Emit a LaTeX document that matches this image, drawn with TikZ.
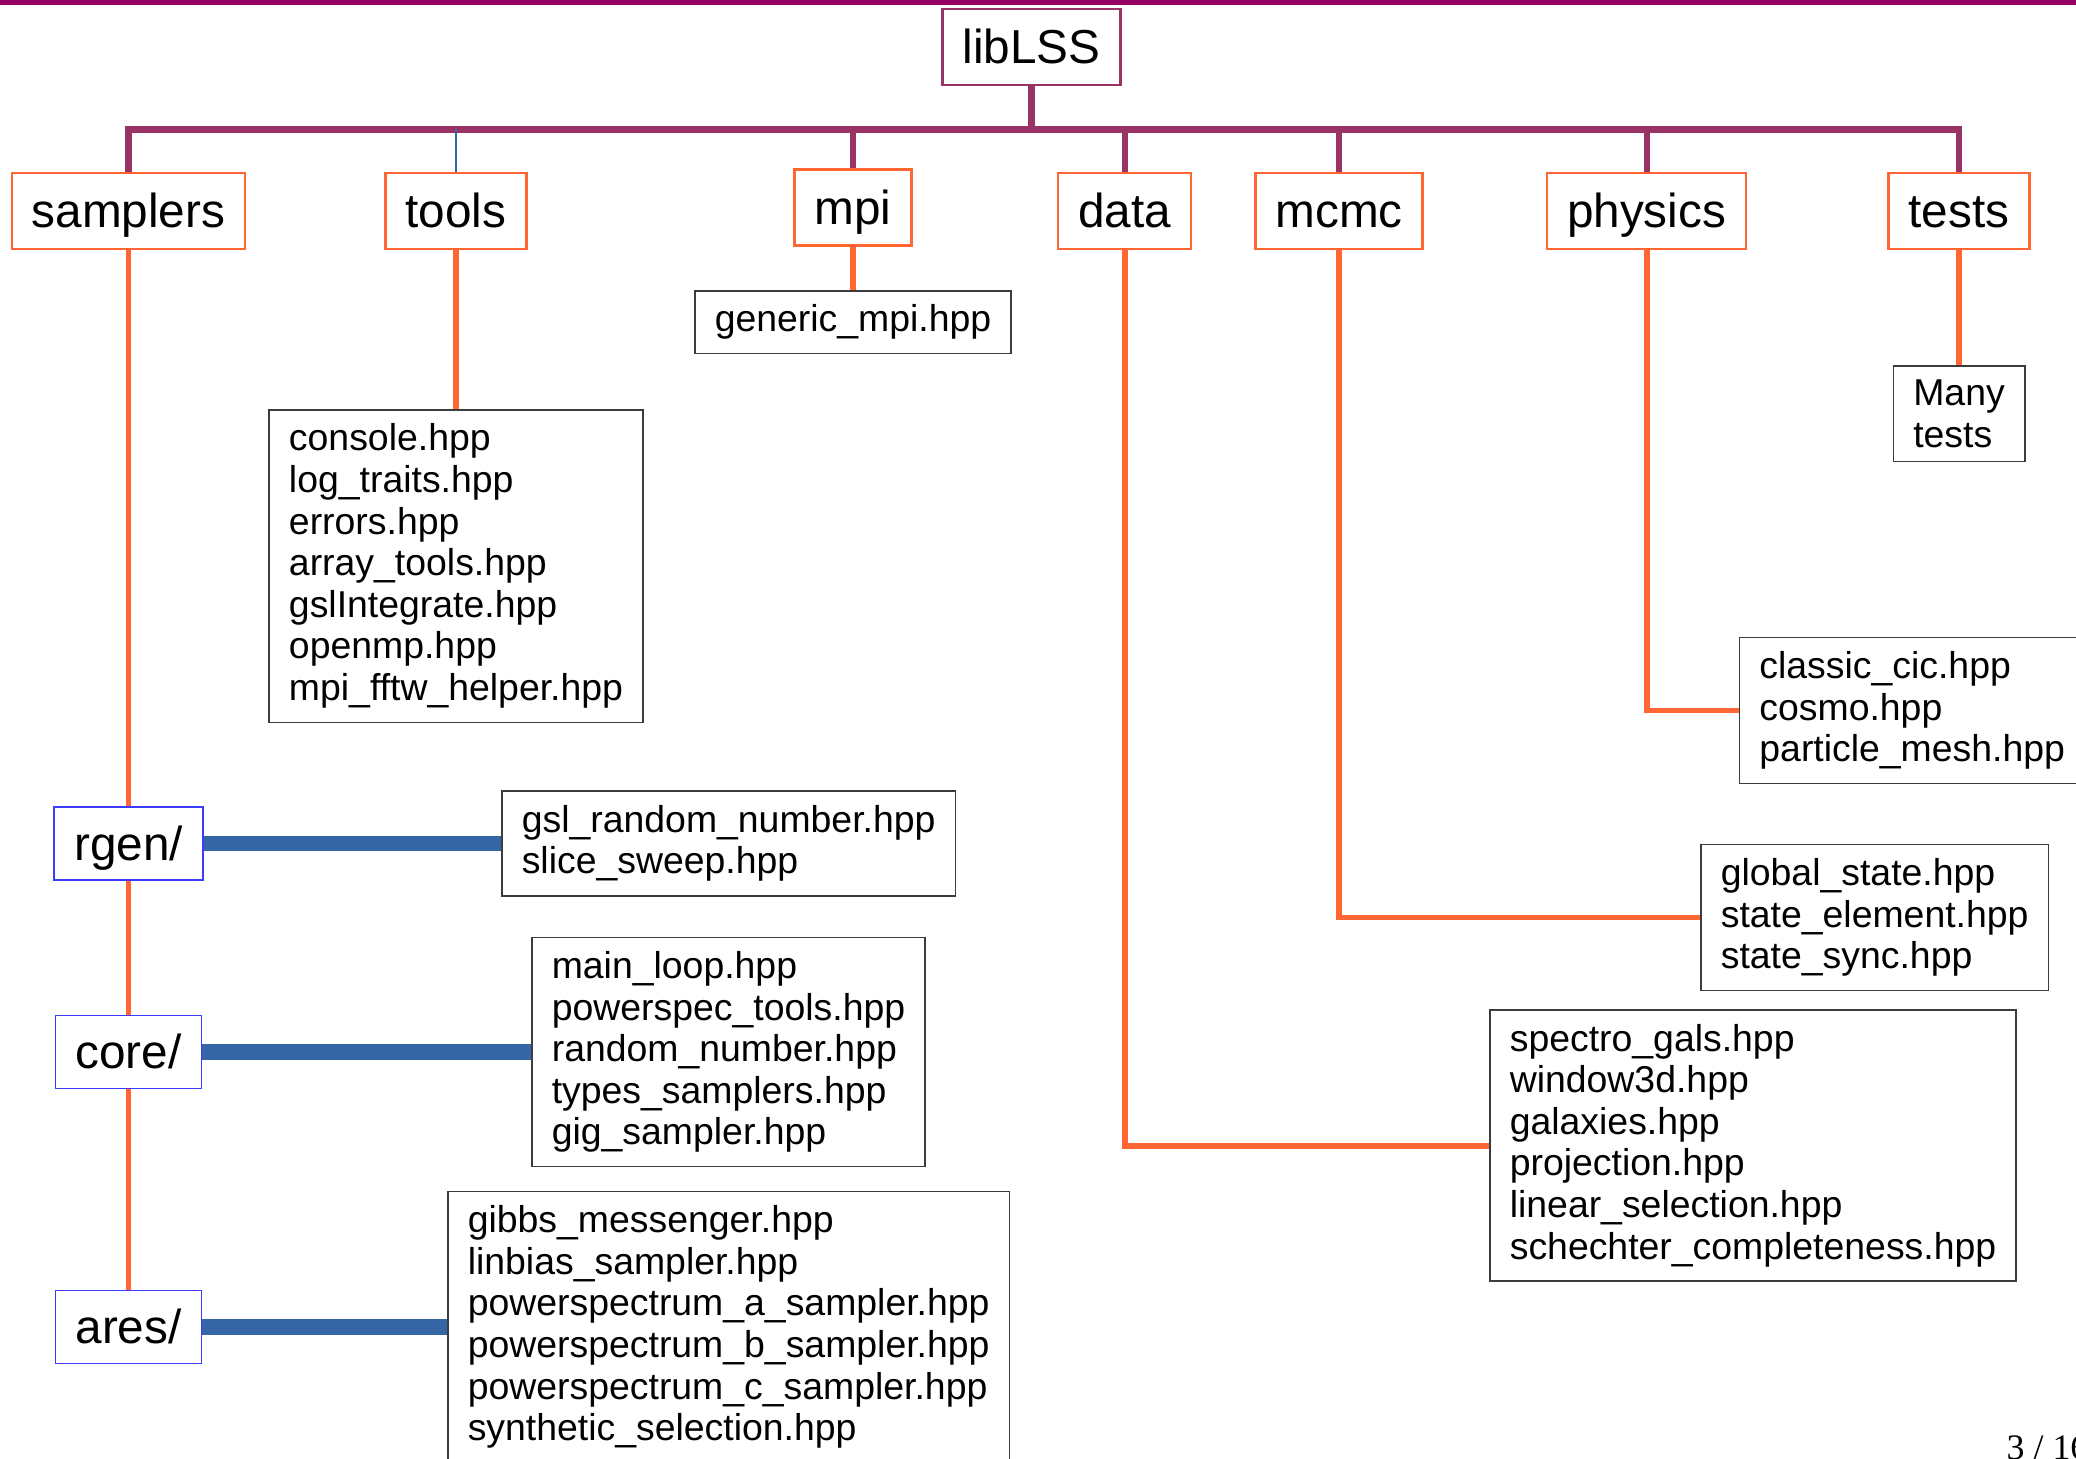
\documentclass[tikz,border=0pt]{standalone}
\usepackage{fontspec}
\setmainfont{Liberation Sans}
\newfontfamily\pagefont{Liberation Serif}
\definecolor{slidebar}{RGB}{148,0,98}
\definecolor{trunkpurple}{RGB}{153,51,102}
\definecolor{legorange}{RGB}{255,102,51}
\definecolor{rodblue}{RGB}{52,101,164}
\definecolor{subblue}{RGB}{60,60,255}
\definecolor{filegray}{RGB}{60,60,60}

\tikzset{
  rootbox/.style={draw=trunkpurple,line width=0.7pt,fill=white,inner xsep=0.2cm,inner ysep=0.114cm,
    font=\fontsize{13.57}{16}\selectfont,text height=12.28pt,text depth=2.88pt},
  dirbox/.style={rootbox,draw=legorange},
  subbox/.style={rootbox,draw=subblue,line width=0.45pt,inner ysep=0.1cm},
  filebox/.style={draw=filegray,line width=0.45pt,fill=white,align=left,inner xsep=0.2cm,inner ysep=0.14cm,
    font=\fontsize{10.64}{11.84}\selectfont},
  trunk/.style={trunkpurple,line width=1.9pt},
  leg/.style={legorange,line width=1.7pt},
  rod/.style={rodblue,line width=4.3pt},
}

\begin{document}
\begin{tikzpicture}
  \useasboundingbox (0,0) rectangle (20.76,-14.58);
  \fill[slidebar] (0,0) rectangle (20.76,-0.05);

  % top level
  \node[rootbox] (libLSS) at (10.315,-0.47) {libLSS};
  \coordinate (bar) at (10.315,-1.295);
  \node[dirbox] (samplers) at (1.285,-2.11) {samplers};
  \node[dirbox] (tools) at (4.56,-2.11) {tools};
  \node[dirbox] (mpi) at (8.53,-2.075) {mpi};
  \node[dirbox] (data) at (11.245,-2.11) {data};
  \node[dirbox] (mcmc) at (13.39,-2.11) {mcmc};
  \node[dirbox] (physics) at (16.465,-2.11) {physics};
  \node[dirbox] (tests) at (19.59,-2.11) {tests};

  % samplers subfolders
  \node[subbox] (rgen) at (1.285,-8.435) {rgen/};
  \node[subbox] (core) at (1.285,-10.52) {core/};
  \node[subbox] (ares) at (1.285,-13.27) {ares/};

  % header lists
  \node[filebox,anchor=north] (toolsfiles) at (4.56,-4.09)
    {console.hpp\\log\_traits.hpp\\errors.hpp\\array\_tools.hpp\\gslIntegrate.hpp\\openmp.hpp\\mpi\_fftw\_helper.hpp};
  \node[filebox,anchor=north] (mpifiles) at (8.53,-2.90) {generic\_mpi.hpp};
  \node[filebox,anchor=north] (testsfiles) at (19.59,-3.65) {Many\\tests};
  \node[filebox,anchor=west] (physfiles) at (17.386,-7.105)
    {classic\_cic.hpp\\cosmo.hpp\\particle\_mesh.hpp};
  \node[filebox,anchor=west] (mcmcfiles) at (17.00,-9.175)
    {global\_state.hpp\\state\_element.hpp\\state\_sync.hpp};
  \node[filebox,anchor=west] (datafiles) at (14.89,-11.455)
    {spectro\_gals.hpp\\window3d.hpp\\galaxies.hpp\\projection.hpp\\linear\_selection.hpp\\schechter\_completeness.hpp};
  \node[filebox,anchor=west] (rgenfiles) at (5.01,-8.435)
    {gsl\_random\_number.hpp\\slice\_sweep.hpp};
  \node[filebox,anchor=west] (corefiles) at (5.31,-10.52)
    {main\_loop.hpp\\powerspec\_tools.hpp\\random\_number.hpp\\types\_samplers.hpp\\gig\_sampler.hpp};
  \node[filebox,anchor=west] (aresfiles) at (4.47,-13.27)
    {gibbs\_messenger.hpp\\linbias\_sampler.hpp\\powerspectrum\_a\_sampler.hpp\\powerspectrum\_b\_sampler.hpp\\powerspectrum\_c\_sampler.hpp\\synthetic\_selection.hpp};

  % tree
  \draw[trunk] (libLSS) -- (libLSS |- bar);
  \draw[trunk] (samplers) -- (samplers |- bar) -- (tests |- bar) -- (tests);
  \foreach \d in {mpi,data,mcmc,physics}
    \draw[trunk,line width=1.7pt] (\d) -- (\d |- bar);
  \draw[rodblue,line width=0.3pt] (tools) -- (tools |- bar);

  \draw[leg] (samplers) -- (rgen);
  \draw[leg] (rgen) -- (core);
  \draw[leg] (core) -- (ares);
  \draw[leg] (tools) -- (toolsfiles);
  \draw[leg] (mpi) -- (mpifiles);
  \draw[leg] (tests) -- (testsfiles);
  \draw[leg] (physics) |- (physfiles);
  \draw[leg] (mcmc) |- (mcmcfiles);
  \draw[leg] (data) |- (datafiles);

  \draw[rod] (rgen) -- (rgenfiles);
  \draw[rod] (core) -- (corefiles);
  \draw[rod] (ares) -- (aresfiles);

  \node[anchor=base west,inner sep=0pt,font=\pagefont\fontsize{10.2}{12}\selectfont] (pagenum) at (20.06,-14.59) {3 / 16};
\end{tikzpicture}
\end{document}
